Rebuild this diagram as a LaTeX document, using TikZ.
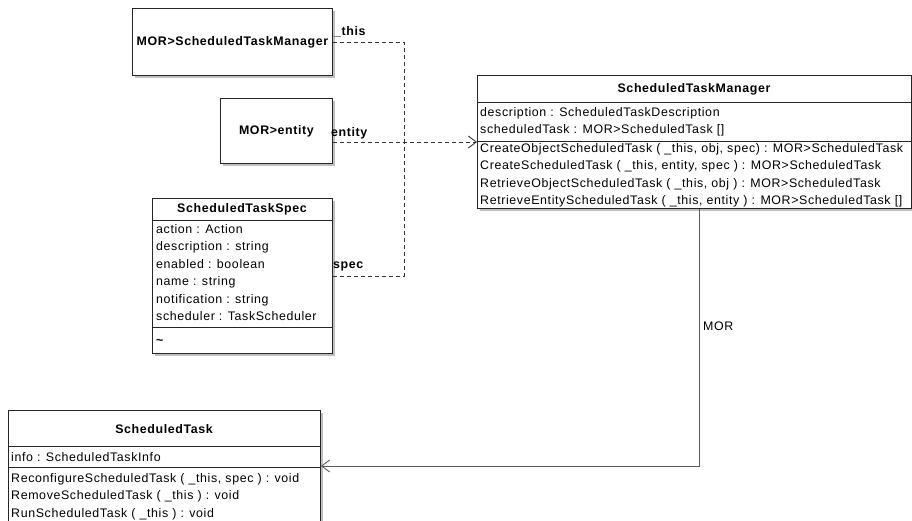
\documentclass[tikz,border=0pt]{standalone}
\usepackage{fontspec}
\setmainfont{Liberation Sans}[LetterSpace=5]
\usetikzlibrary{arrows.meta,shadows}

\begin{document}
\begin{tikzpicture}[x=1pt,y=-1pt,
  every node/.style={font=\fontsize{12.4}{14}\selectfont,inner sep=0pt},
  classbox/.style={draw=black!85,line width=0.9pt,fill=white,anchor=north west,
    drop shadow={shadow xshift=3pt,shadow yshift=-3pt,fill=black!25,opacity=1}},
  head/.style={font=\fontsize{12.4}{14}\selectfont\bfseries},
  row/.style={anchor=base west},
  dep/.style={draw=black!80,line width=0.9pt,dash pattern=on 4pt off 3pt},
  assoc/.style={draw=black!65,line width=0.9pt},
  navarrow/.style={-{Straight Barb[length=8pt,width=12pt]}}]
  \useasboundingbox (0,0) rectangle (912,520);
  \clip (0,0) rectangle (912,520);

  % reference boxes
  \node[classbox,head,minimum width=200,minimum height=67] (mgrref) at (132,8) {MOR>ScheduledTaskManager};
  \node[classbox,head,minimum width=112,minimum height=65] (entref) at (220,98) {MOR>entity};

  % ScheduledTaskSpec
  \node[classbox,minimum width=180,minimum height=155] (spec) at (152,198) {};
  \node[head] (spec-h) at (242,209) {ScheduledTaskSpec};
  \draw[black!85,line width=0.9pt] (spec.west |- 0,220) -- (spec.east |- 0,220);
  \draw[black!85,line width=0.9pt] (spec.west |- 0,327) -- (spec.east |- 0,327);
  \foreach \t [count=\i] in {{action : Action},{description : string},{enabled : boolean},
      {name : string},{notification : string},{scheduler : TaskScheduler}}{
    \node[row] (spec-a\i) at (156,215.5+17.5*\i) {\t};
  }
  \node[row,head] (spec-m) at (156,344) {\textasciitilde};

  % ScheduledTaskManager
  \node[classbox,minimum width=434,minimum height=133] (mgr) at (477,75) {};
  \node[head] (mgr-h) at (694,89) {ScheduledTaskManager};
  \draw[black!85,line width=0.9pt] (mgr.west |- 0,102) -- (mgr.east |- 0,102);
  \draw[black!85,line width=0.9pt] (mgr.west |- 0,141) -- (mgr.east |- 0,141);
  \foreach \t [count=\i] in {{description : ScheduledTaskDescription},
      {scheduledTask : MOR>ScheduledTask []}}{
    \node[row] (mgr-a\i) at (480,98.5+17.5*\i) {\t};
  }
  \foreach \t [count=\i] in {{CreateObjectScheduledTask ( \_this, obj, spec) : MOR>ScheduledTask},
      {CreateScheduledTask ( \_this, entity, spec ) : MOR>ScheduledTask},
      {RetrieveObjectScheduledTask ( \_this, obj ) : MOR>ScheduledTask},
      {RetrieveEntityScheduledTask ( \_this, entity ) : MOR>ScheduledTask []}}{
    \node[row] (mgr-m\i) at (480,134.5+17.5*\i) {\t};
  }

  % ScheduledTask
  \node[classbox,minimum width=312,minimum height=130] (task) at (8,410) {};
  \node[head] (task-h) at (164,429) {ScheduledTask};
  \draw[black!85,line width=0.9pt] (task.west |- 0,446) -- (task.east |- 0,446);
  \draw[black!85,line width=0.9pt] (task.west |- 0,467) -- (task.east |- 0,467);
  \node[row] (task-a1) at (11,461) {info : ScheduledTaskInfo};
  \foreach \t [count=\i] in {{ReconfigureScheduledTask ( \_this, spec ) : void},
      {RemoveScheduledTask ( \_this ) : void},{RunScheduledTask ( \_this ) : void}}{
    \node[row] (task-m\i) at (11,464.5+17.5*\i) {\t};
  }

  % dependencies
  \coordinate (jn) at (404,142);
  \draw[dep] (mgrref.east) -| (jn);
  \draw[dep] (spec.east) -| (jn);
  \draw[dep,navarrow] (entref.east |- jn) -- (mgr.west |- jn);
  \node[row,head] (l-this) at (334,35) {\_this};
  \node[row,head] (l-entity) at (331,136) {entity};
  \node[row,head] (l-spec) at (333,268) {spec};

  % association
  \coordinate (mc) at (699,466);
  \draw[assoc,navarrow] (mgr.south -| mc) -- (mc) -- (task.east |- mc);
  \node[row] (l-mor) at (703,330) {MOR};
\end{tikzpicture}
\end{document}
